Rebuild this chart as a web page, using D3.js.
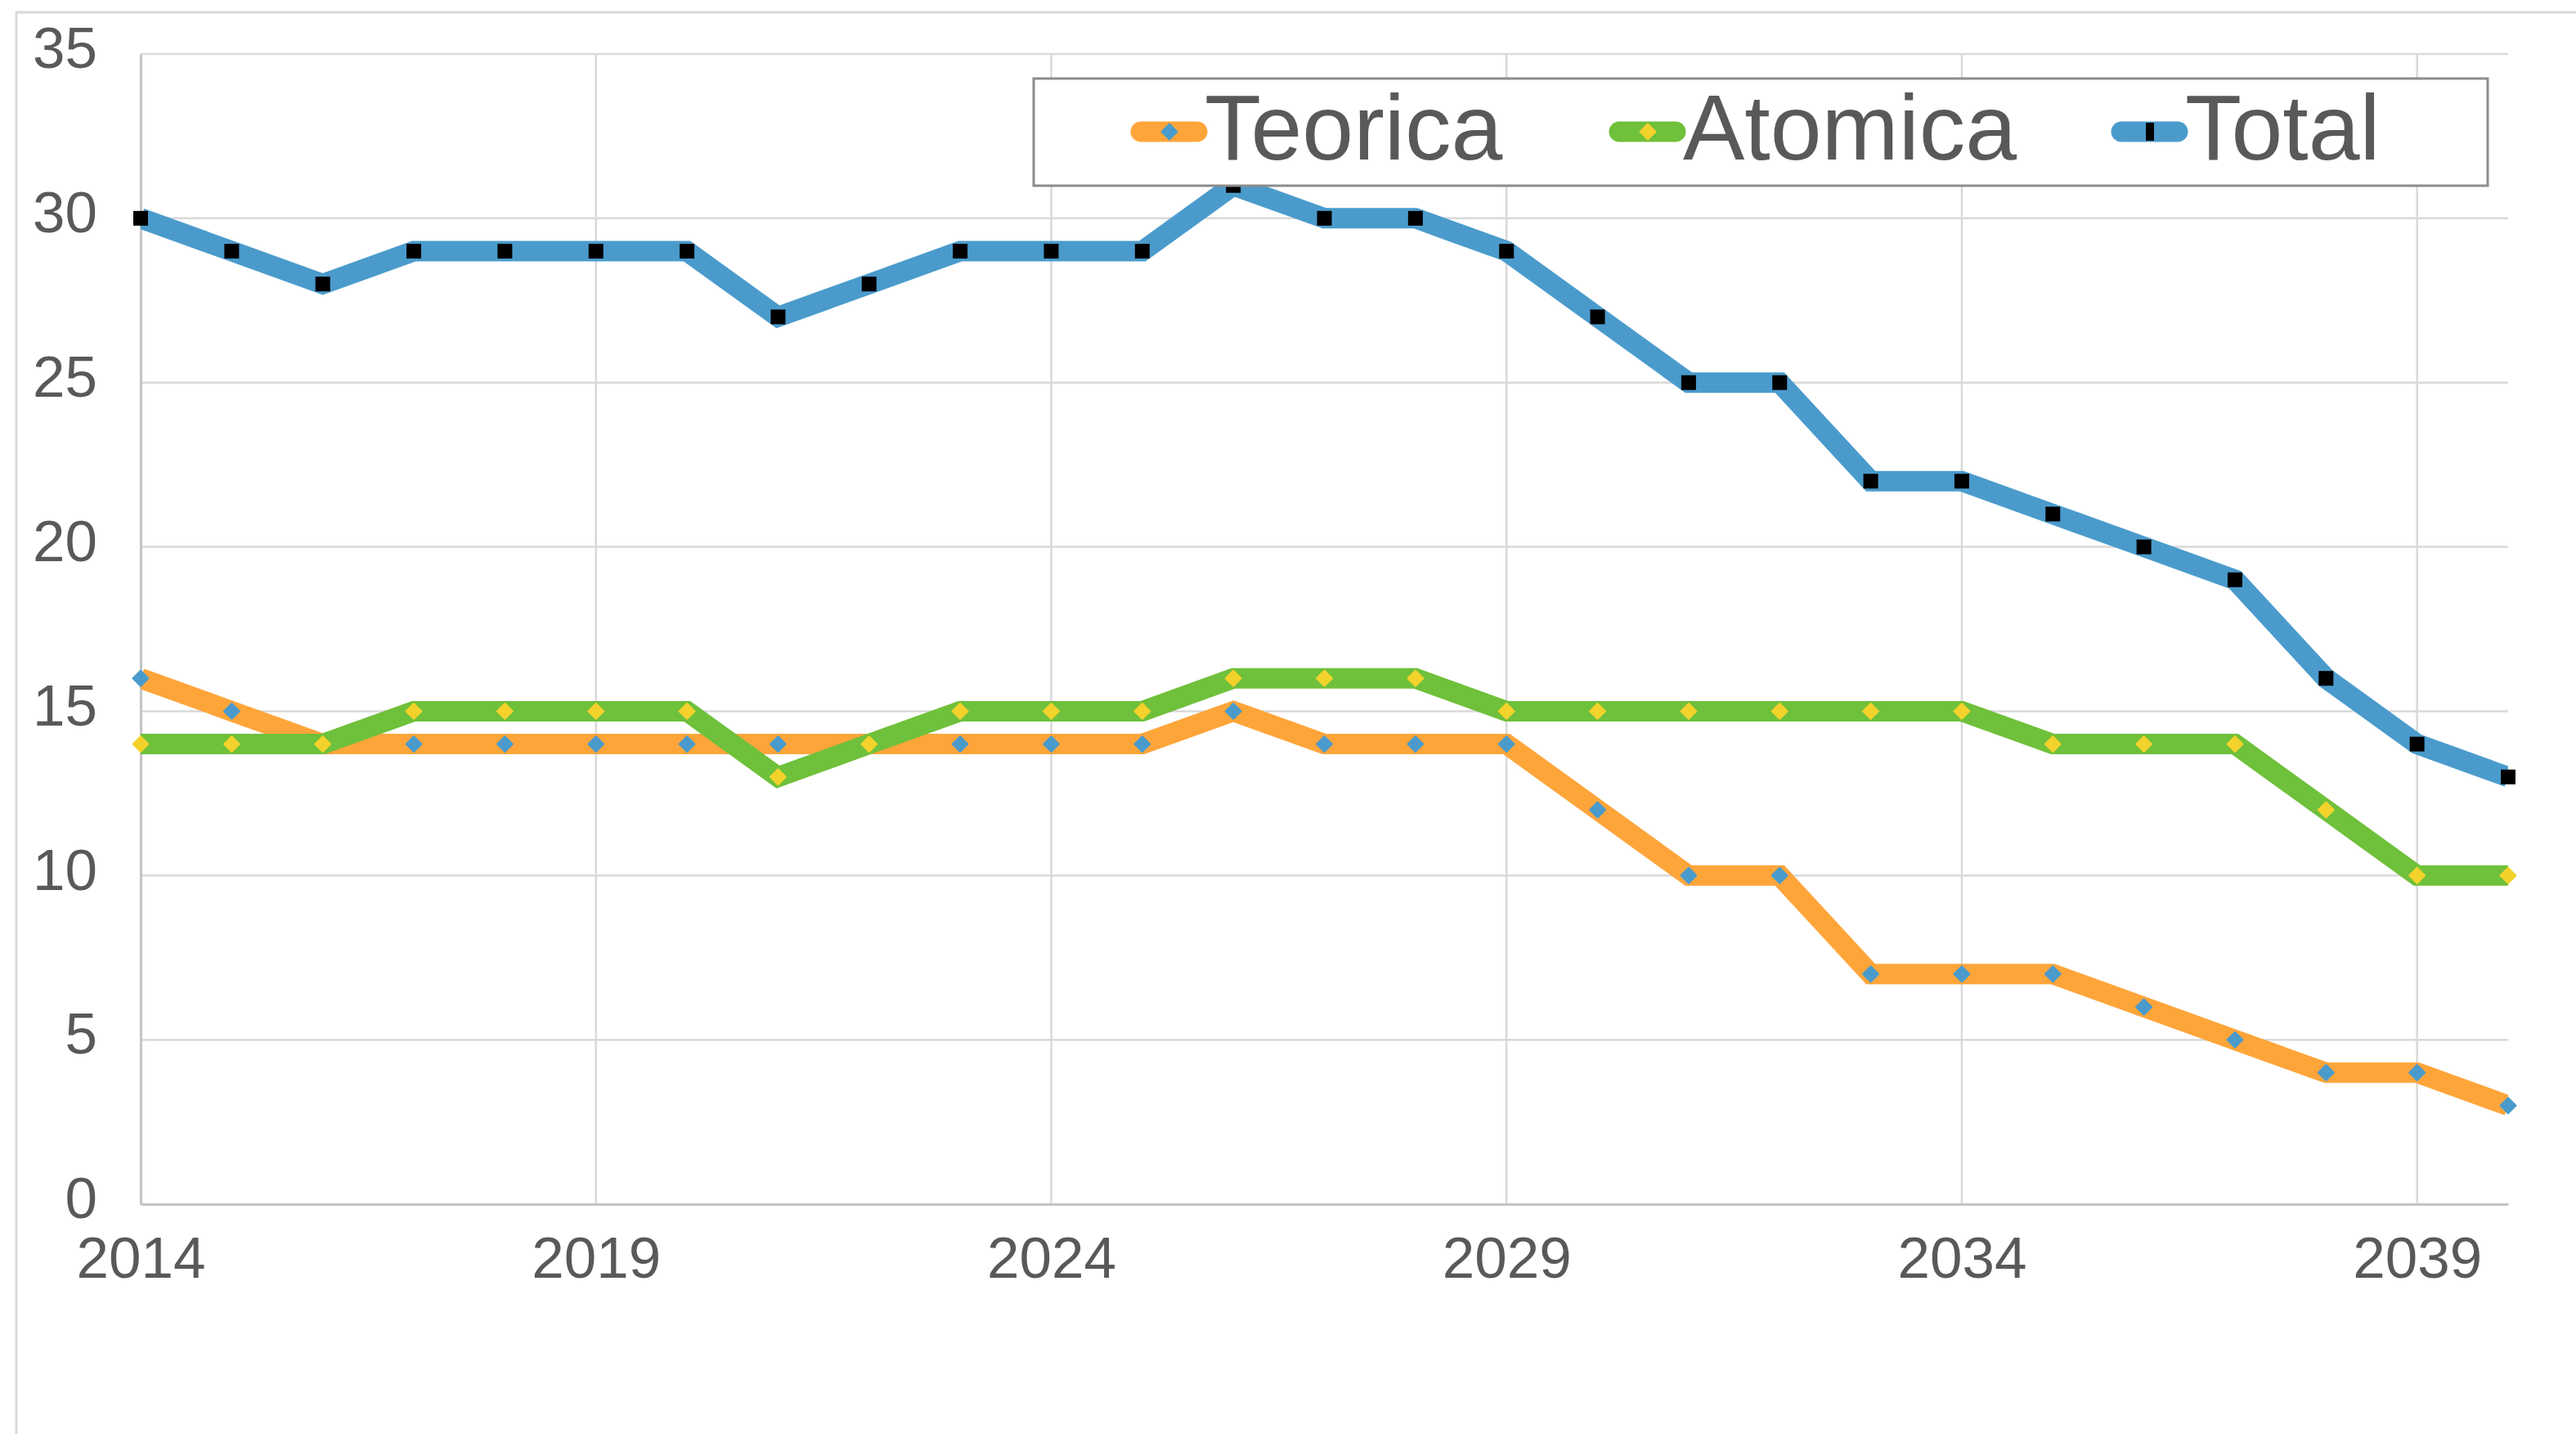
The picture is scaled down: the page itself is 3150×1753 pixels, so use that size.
<!DOCTYPE html>
<html>
<head>
<meta charset="utf-8">
<script src="https://cdn.jsdelivr.net/npm/d3@7"></script>
<style>
  html, body { margin: 0; padding: 0; background: #fff; }
  text { font-family: "Liberation Sans", Arial, sans-serif; fill: #595959; }
</style>
</head>
<body>
<div id="container"></div>
<script>
const w = 3150,
  h = 1753;

// data
const years = d3.range(2014, 2041);
const teorica = [16, 15, 14, 14, 14, 14, 14, 14, 14, 14, 14, 14, 15, 14, 14, 14, 12, 10, 10, 7, 7, 7, 6, 5, 4, 4, 3];
const atomica = [14, 14, 14, 15, 15, 15, 15, 13, 14, 15, 15, 15, 16, 16, 16, 15, 15, 15, 15, 15, 15, 14, 14, 14, 12, 10, 10];
const total = [30, 29, 28, 29, 29, 29, 29, 27, 28, 29, 29, 29, 31, 30, 30, 29, 27, 25, 25, 22, 22, 21, 20, 19, 16, 14, 13];
const xTicks = [2014, 2019, 2024, 2029, 2034, 2039];
const yTicks = [0, 5, 10, 15, 20, 25, 30, 35];

const series = [
  { name: 'Teorica', values: teorica, color: '#fea53a', marker: '#4a9bcc', shape: 'diamond' },
  { name: 'Atomica', values: atomica, color: '#6fc03a', marker: '#f3d22c', shape: 'diamond' },
  { name: 'Total', values: total, color: '#4a9bcc', marker: '#000000', shape: 'square' }
];

const plotLeft = 172,
  plotRight = 3067,
  plotTop = 66,
  plotBottom = 1472;

const svg = d3.select('#container').append('svg').attr('width', w).attr('height', h);

svg.append('rect').attr('width', w).attr('height', h).attr('fill', '#fff');

// outer chart frame (only top and left are inside the picture)
svg
  .append('rect')
  .attr('x', 20)
  .attr('y', 15)
  .attr('width', 3300)
  .attr('height', 1900)
  .attr('fill', 'none')
  .attr('stroke', '#d9d9d9')
  .attr('stroke-width', 3);

const xScale = d3.scaleLinear().domain([2014, 2040]).range([plotLeft, plotRight]);
const yScale = d3.scaleLinear().domain([0, 35]).range([plotBottom, plotTop]);

// gridlines
svg
  .append('g')
  .selectAll('line')
  .data(yTicks.filter((d) => d > 0))
  .enter()
  .append('line')
  .attr('x1', plotLeft)
  .attr('x2', plotRight)
  .attr('y1', (d) => yScale(d))
  .attr('y2', (d) => yScale(d))
  .attr('stroke', '#d9d9d9')
  .attr('stroke-width', 2.5);

svg
  .append('g')
  .selectAll('line')
  .data(xTicks.filter((d) => d > 2014))
  .enter()
  .append('line')
  .attr('x1', (d) => xScale(d))
  .attr('x2', (d) => xScale(d))
  .attr('y1', plotTop)
  .attr('y2', plotBottom)
  .attr('stroke', '#d9d9d9')
  .attr('stroke-width', 2.5);

// axes
const yAxis = d3.axisLeft(yScale).tickValues(yTicks).tickSize(0).tickPadding(53);
const yG = svg.append('g').attr('transform', 'translate(' + plotLeft + ',0)').call(yAxis);
yG.select('.domain').attr('stroke', '#c4c4c4').attr('stroke-width', 3);
yG.selectAll('text')
  .attr('font-size', 71)
  .attr('dy', '0.32em')
  .attr('y', -6)
  .style('font-family', '"Liberation Sans", Arial, sans-serif')
  .attr('fill', '#595959');

const xAxis = d3.axisBottom(xScale).tickValues(xTicks).tickFormat(d3.format('d')).tickSize(0).tickPadding(40);
const xG = svg.append('g').attr('transform', 'translate(0,' + plotBottom + ')').call(xAxis);
xG.select('.domain').attr('stroke', '#c4c4c4').attr('stroke-width', 3);
xG.selectAll('text')
  .attr('font-size', 71)
  .attr('dy', '0.71em')
  .style('font-family', '"Liberation Sans", Arial, sans-serif')
  .attr('fill', '#595959');

svg
  .append('clipPath')
  .attr('id', 'plot-clip')
  .append('rect')
  .attr('x', plotLeft)
  .attr('y', 0)
  .attr('width', plotRight - plotLeft)
  .attr('height', plotBottom);

const line = d3
  .line()
  .x((d, i) => xScale(years[i]))
  .y((d) => yScale(d));

function drawMarker(g, shape, color, x, y) {
  if (shape === 'square') {
    g.append('rect')
      .attr('x', x - 9)
      .attr('y', y - 9)
      .attr('width', 18)
      .attr('height', 18)
      .attr('fill', color);
  } else if (shape === 'bar') {
    g.append('rect')
      .attr('x', x - 5)
      .attr('y', y - 11)
      .attr('width', 10)
      .attr('height', 22)
      .attr('fill', color);
  } else {
    g.append('path')
      .attr('d', d3.symbol().type(d3.symbolSquare).size(180)())
      .attr('transform', 'translate(' + x + ',' + y + ') rotate(45)')
      .attr('fill', color)
      .attr('stroke', color)
      .attr('stroke-width', 2)
      .attr('stroke-linejoin', 'round');
  }
}

series.forEach((s) => {
  const g = svg.append('g');
  g.append('path')
    .datum(s.values)
    .attr('d', line)
    .attr('fill', 'none')
    .attr('stroke', s.color)
    .attr('stroke-width', 25)
    .attr('stroke-linejoin', 'miter')
    .attr('clip-path', 'url(#plot-clip)');
  s.values.forEach((v, i) => drawMarker(g, s.shape, s.marker, xScale(years[i]), yScale(v)));
});

// legend
const legend = svg.append('g');
legend
  .append('rect')
  .attr('x', 1264)
  .attr('y', 96)
  .attr('width', 1778)
  .attr('height', 131)
  .attr('fill', '#fff')
  .attr('stroke', '#8c8c8c')
  .attr('stroke-width', 3);

const legendX = [1383, 1968, 2582];
series.forEach((s, i) => {
  const x = legendX[i];
  legend
    .append('line')
    .attr('x1', x + 12)
    .attr('x2', x + 81)
    .attr('y1', 161)
    .attr('y2', 161)
    .attr('stroke', s.color)
    .attr('stroke-width', 25)
    .attr('stroke-linecap', 'round');
  drawMarker(legend, s.shape === 'square' ? 'bar' : s.shape, s.marker, x + 47, 161);
  legend
    .append('text')
    .attr('x', x + 90)
    .attr('y', 195)
    .attr('font-size', 113)
    .text(s.name);
});
</script>
</body>
</html>
